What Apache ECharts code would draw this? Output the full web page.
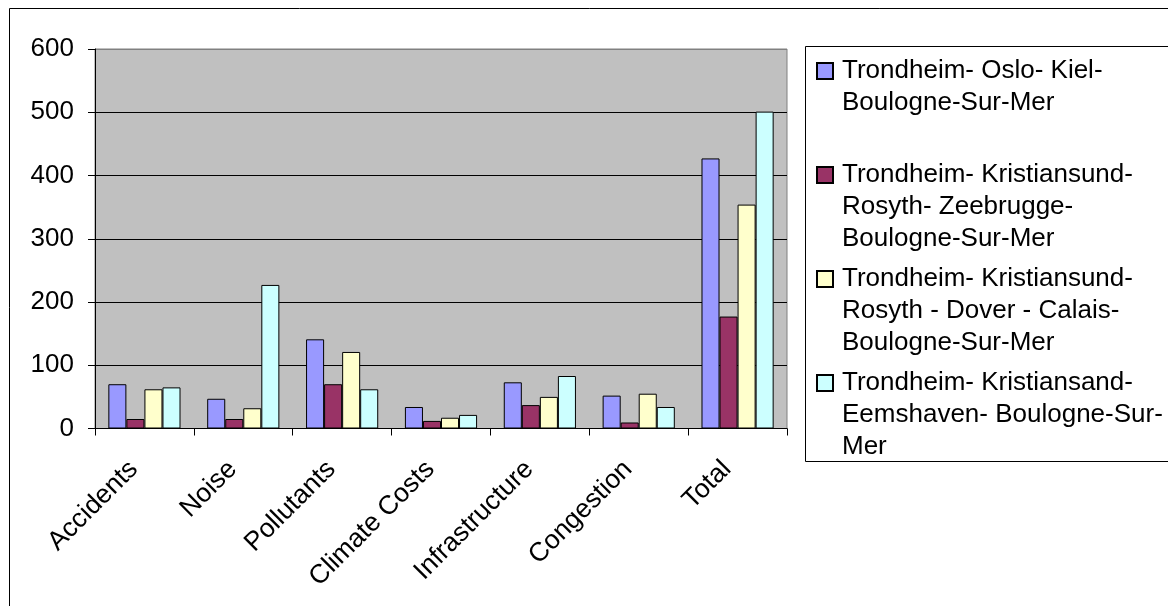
<!DOCTYPE html>
<html>
<head>
<meta charset="utf-8">
<script src="https://cdn.jsdelivr.net/npm/echarts@6/dist/echarts.min.js"></script>
<style>
html,body{margin:0;padding:0;background:#fff;}
#chart{width:1168px;height:606px;}
</style>
</head>
<body>
<div id="chart"></div>
<script>
var categories = ['Accidents', 'Noise', 'Pollutants', 'Climate Costs', 'Infrastructure', 'Congestion', 'Total'];
var seriesNames = [
  'Trondheim- Oslo- Kiel-\nBoulogne-Sur-Mer',
  'Trondheim- Kristiansund-\nRosyth- Zeebrugge-\nBoulogne-Sur-Mer',
  'Trondheim- Kristiansund-\nRosyth - Dover - Calais-\nBoulogne-Sur-Mer',
  'Trondheim- Kristiansand-\nEemshaven- Boulogne-Sur-\nMer'
];
var osloKiel = [70, 47, 141, 34, 73, 52, 427];
var zeebrugge = [15, 15, 70, 12, 37, 9.5, 177];
var doverCalais = [62, 32, 121, 17, 50, 55, 354];
var eemshaven = [65, 227, 62, 21.5, 83, 34, 501];
var yTicks = [0, 100, 200, 300, 400, 500, 600];

var seriesData = [osloKiel, zeebrugge, doverCalais, eemshaven];
var colors = ['#9999FF', '#993366', '#FFFFCC', '#CCFFFF'];
var FONT = '"Liberation Sans", Arial, sans-serif';
var LH = 32;
var legendTops = [54, 158, 262, 366];

var chart = echarts.init(document.getElementById('chart'), null, {renderer: 'canvas'});

var legends = seriesNames.map(function (n, i) {
  var lines = n.split('\n').length;
  return {
    data: [n],
    left: 816,
    top: legendTops[i],
    padding: 0,
    orient: 'vertical',
    itemWidth: 16,
    itemHeight: lines * LH,
    icon: 'path://M0,0M0,8L16,8L16,24L0,24ZM0,' + (lines * LH),
    textStyle: {fontFamily: FONT, fontSize: 26, lineHeight: LH, color: '#000', padding: [0, 0, 0, 4]}
  };
});

var splitColors = yTicks.map(function (v, i) { return i === yTicks.length - 1 ? '#808080' : '#000000'; });

var option = {
  animation: false,
  backgroundColor: '#ffffff',
  graphic: [
    {type: 'rect', z: -10, shape: {x: 9.5, y: 8.5, width: 1200, height: 700}, style: {fill: '#fff', stroke: '#000', lineWidth: 1}},
    {type: 'rect', z: -5, shape: {x: 805.5, y: 46.5, width: 400, height: 415}, style: {fill: '#fff', stroke: '#000', lineWidth: 1}}
  ],
  legend: legends,
  grid: {
    left: 95, right: 381, top: 49, bottom: 177.5,
    show: true, backgroundColor: '#C0C0C0', borderColor: '#808080', borderWidth: 1,
    containLabel: false
  },
  xAxis: {
    type: 'category',
    data: categories,
    boundaryGap: true,
    axisLine: {lineStyle: {color: '#000', width: 1}},
    axisTick: {show: true, length: 7, lineStyle: {color: '#000'}, alignWithLabel: false},
    axisLabel: {rotate: 45, fontFamily: FONT, fontSize: 26.5, color: '#000', margin: 26, interval: 0, padding: [0, 15, 0, 0]},
    splitLine: {show: false}
  },
  yAxis: {
    type: 'value',
    min: 0, max: 600, interval: 100,
    axisLine: {show: true, lineStyle: {color: '#000', width: 1}},
    axisTick: {show: true, length: 7, lineStyle: {color: '#000'}},
    axisLabel: {fontFamily: FONT, fontSize: 26, color: '#000', margin: 21},
    splitLine: {show: true, lineStyle: {color: splitColors, width: 1}}
  },
  series: seriesData.map(function (d, i) {
    return {
      name: seriesNames[i],
      type: 'bar',
      data: d,
      barGap: '0%',
      barCategoryGap: '27%',
      itemStyle: {color: colors[i], borderColor: '#000', borderWidth: 1},
      emphasis: {disabled: true}
    };
  })
};
chart.setOption(option);
</script>
</body>
</html>
